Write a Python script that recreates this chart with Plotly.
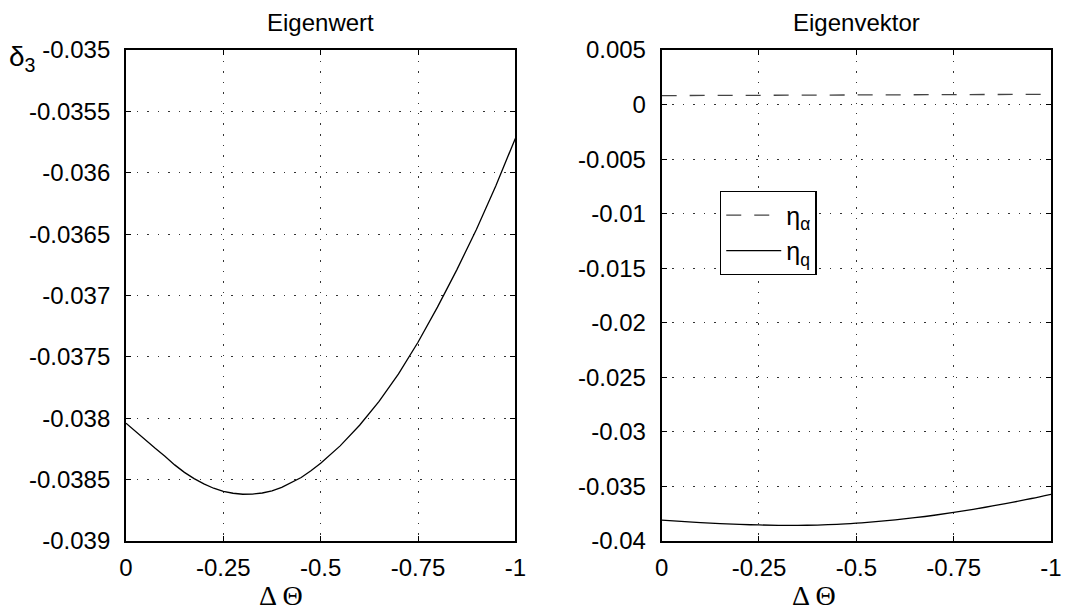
import plotly.graph_objects as go

# ---- data ----
dtheta = [0, -0.025, -0.05, -0.075, -0.1, -0.125, -0.15, -0.175, -0.2, -0.225, -0.25,
          -0.275, -0.3, -0.325, -0.35, -0.375, -0.4, -0.425, -0.45, -0.475, -0.5,
          -0.55, -0.6, -0.65, -0.7, -0.75, -0.8, -0.85, -0.9, -0.95, -1.0]
delta3 = [-0.03804, -0.03811, -0.03818, -0.038245, -0.03831, -0.03838, -0.038441, -0.038492,
          -0.038535, -0.03857, -0.038595, -0.038611, -0.038619, -0.038618, -0.038609,
          -0.038592, -0.038563, -0.038526, -0.038483, -0.038428, -0.038367,
          -0.038225, -0.038057, -0.037863, -0.037639, -0.037381, -0.037095, -0.036789,
          -0.036462, -0.036105, -0.03572]

eta_x = [0, -0.25, -0.5, -0.75, -1.0]
eta_alpha = [0.00082, 0.00085, 0.00088, 0.00091, 0.00094]

eta_q_x = [0, -0.05, -0.1, -0.15, -0.2, -0.25, -0.3, -0.35, -0.4, -0.45, -0.5,
           -0.55, -0.6, -0.65, -0.7, -0.75, -0.8, -0.85, -0.9, -0.95, -1.0]
eta_q = [-0.03808, -0.03820, -0.03831, -0.038405, -0.03848, -0.03853, -0.03856, -0.038565,
         -0.03854, -0.03848, -0.03837, -0.038225, -0.038057, -0.037863, -0.037639, -0.037381,
         -0.037095, -0.036789, -0.036462, -0.036105, -0.03572]

x_ticks = [0, -0.25, -0.5, -0.75, -1]
x_ticktext = ["0", "-0.25", "-0.5", "-0.75", "-1"]
y1_ticks = [-0.035, -0.0355, -0.036, -0.0365, -0.037, -0.0375, -0.038, -0.0385, -0.039]
y1_ticktext = ["-0.035", "-0.0355", "-0.036", "-0.0365", "-0.037", "-0.0375", "-0.038", "-0.0385", "-0.039"]
y2_ticks = [0.005, 0, -0.005, -0.01, -0.015, -0.02, -0.025, -0.03, -0.035, -0.04]
y2_ticktext = ["0.005", "0", "-0.005", "-0.01", "-0.015", "-0.02", "-0.025", "-0.03", "-0.035", "-0.04"]

FONT = "Liberation Sans, Arial, Helvetica, sans-serif"
SERIF = "Liberation Serif, Times New Roman, serif"
TICKSIZE = 24

fig = go.Figure()
fig.add_trace(go.Scatter(x=dtheta, y=delta3, mode="lines", line=dict(color="black", width=1.3),
                         showlegend=False, xaxis="x", yaxis="y"))
fig.add_trace(go.Scatter(x=eta_x, y=eta_alpha, mode="lines", name="η<sub>α</sub>",
                         line=dict(color="#444", width=1.3, dash="15px,13px"),
                         xaxis="x2", yaxis="y2"))
fig.add_trace(go.Scatter(x=eta_q_x, y=eta_q, mode="lines", name="η<sub>q</sub>",
                         line=dict(color="black", width=1.3), line_shape="spline",
                         xaxis="x2", yaxis="y2"))

axis_common = dict(showline=True, linecolor="black", linewidth=1.8, mirror="ticks",
                   ticks="inside", ticklen=5, tickcolor="black", tickwidth=1,
                   showgrid=True, gridcolor="#333", gridwidth=1, griddash="1.5px,9px",
                   zeroline=False, tickfont=dict(family=FONT, size=TICKSIZE, color="black"))

fig.update_layout(
    width=1071, height=612,
    margin=dict(l=126, r=9, t=50, b=71),
    paper_bgcolor="white", plot_bgcolor="white",
    font=dict(family=FONT, color="black"),
    xaxis=dict(domain=[0, 0.4209], range=[0, -1], tickvals=x_ticks, ticktext=x_ticktext,
               anchor="y", ticklabelstandoff=4, **axis_common),
    yaxis=dict(domain=[0, 1], range=[-0.039, -0.035], tickvals=y1_ticks, ticktext=y1_ticktext,
               anchor="x", ticklabelstandoff=9, **axis_common),
    xaxis2=dict(domain=[0.5791, 1], range=[0, -1], tickvals=x_ticks, ticktext=x_ticktext,
                anchor="y2", ticklabelstandoff=4, **axis_common),
    yaxis2=dict(domain=[0, 1], range=[-0.04, 0.005], tickvals=y2_ticks, ticktext=y2_ticktext,
                anchor="x2", ticklabelstandoff=9, **axis_common),
    legend=dict(x=0.642, y=0.7128, xanchor="left", yanchor="top",
                bgcolor="white", bordercolor="black", borderwidth=1.4,
                itemwidth=55, font=dict(family=FONT, size=25, color="black"), tracegroupgap=0),
    showlegend=True,
)

fig.add_annotation(text="Eigenwert", xref="x domain", yref="paper", x=0.5, y=1.057,
                   xanchor="center", yanchor="middle", showarrow=False,
                   font=dict(family=FONT, size=24, color="black"))
fig.add_annotation(text="Eigenvektor", xref="x2 domain", yref="paper", x=0.5, y=1.057,
                   xanchor="center", yanchor="middle", showarrow=False,
                   font=dict(family=FONT, size=24, color="black"))
fig.add_annotation(text="Δ Θ", xref="paper", yref="paper", x=(283 - 126) / 936, y=-0.112,
                   xanchor="center", yanchor="middle", showarrow=False,
                   font=dict(family=SERIF, size=28, color="black"))
fig.add_annotation(text="Δ Θ", xref="paper", yref="paper", x=(822 - 126) / 936, y=-0.112,
                   xanchor="center", yanchor="middle", showarrow=False,
                   font=dict(family=SERIF, size=28, color="black"))
fig.add_annotation(text="δ<sub>3</sub>", xref="paper", yref="paper", x=(6 - 126) / 936, y=1.022,
                   xanchor="left", yanchor="top", showarrow=False,
                   font=dict(family=FONT, size=28, color="black"))

fig.write_html("out.html")
